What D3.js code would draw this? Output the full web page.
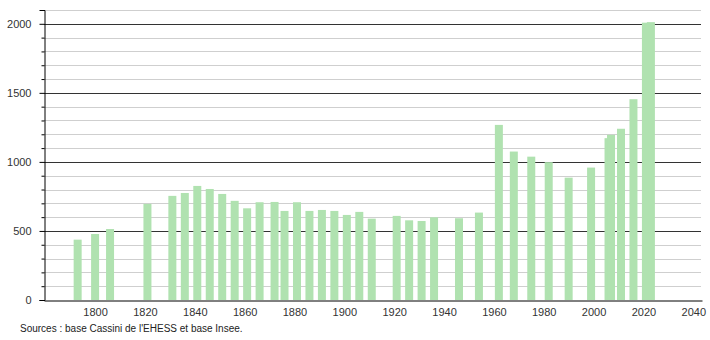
<!DOCTYPE html>
<html>
<head>
<meta charset="utf-8">
<script src="https://cdn.jsdelivr.net/npm/d3@7"></script>
<style>
  body { margin: 0; background: #fff; }
  text { font-family: "Liberation Sans", Arial, sans-serif; }
</style>
</head>
<body>
<div id="chart"></div>
<script>
const years = [1793, 1800, 1806, 1821, 1831, 1836, 1841, 1846, 1851, 1856,
  1861, 1866, 1872, 1876, 1881, 1886, 1891, 1896, 1901, 1906, 1911,
  1921, 1926, 1931, 1936, 1946, 1954, 1962, 1968, 1975, 1982, 1990,
  1999, 2006, 2007, 2011, 2016, 2021, 2023];
const population = [437, 478, 514, 696, 754, 775, 826, 804, 768, 718,
  664, 708, 710, 645, 708, 645, 652, 645, 616, 638, 589,
  609, 577, 572, 599, 592, 633, 1268, 1075, 1038, 998, 886,
  959, 1172, 1196, 1240, 1454, 2008, 2012];
const xTicks = [1800, 1820, 1840, 1860, 1880, 1900, 1920, 1940, 1960, 1980, 2000, 2020, 2040];
const yMajor = [0, 500, 1000, 1500, 2000];
const yMinor = d3.range(100, 2101, 100).filter(v => v % 500 !== 0);
const source = "Sources : base Cassini de l'EHESS et base Insee.";

const width = 710;
const height = 340;
const barColor = "#b0e2b0";

const svg = d3.select("#chart").append("svg").attr("width", width).attr("height", height);

const x = d3.scaleLinear().domain([1779.5, 2043.5]).range([44, 702]);
const y = d3.scaleLinear().domain([0, 2100]).range([300, 10]);

// grid lines
svg.append("g").selectAll("line")
  .data(yMinor)
  .enter()
  .append("line")
  .attr("x1", 44).attr("x2", 701)
  .attr("y1", d => Math.round(y(d)) + 0.5).attr("y2", d => Math.round(y(d)) + 0.5)
  .attr("stroke", "#cfcfcf");

svg.append("g").selectAll("line")
  .data(yMajor.filter(d => d > 0))
  .enter()
  .append("line")
  .attr("x1", 44).attr("x2", 701)
  .attr("y1", d => Math.round(y(d)) + 0.5).attr("y2", d => Math.round(y(d)) + 0.5)
  .attr("stroke", "#333");

// bars
const data = years.map((yr, i) => ({ year: yr, value: population[i] }));
svg.append("g").selectAll("rect")
  .data(data)
  .enter()
  .append("rect")
  .attr("x", d => x(d.year) - 4)
  .attr("width", 8)
  .attr("y", d => y(d.value))
  .attr("height", d => y(0) - y(d.value))
  .attr("fill", barColor);

// y axis
const yAxisMajor = d3.axisLeft(y).tickValues(yMajor).tickSize(5).tickPadding(8).tickFormat(d3.format("d"));
const gy = svg.append("g").attr("transform", "translate(44.5,0)").call(yAxisMajor);
gy.select(".domain").attr("stroke", "#000");
gy.selectAll(".tick line").attr("stroke", "#000");
gy.selectAll(".tick text").attr("fill", "#333").style("font-size", "11px").style("font-family", "Liberation Sans, Arial, sans-serif");

const yAxisMinor = d3.axisLeft(y).tickValues(yMinor).tickSize(3).tickFormat("");
const gyMinor = svg.append("g").attr("transform", "translate(44.5,0)").call(yAxisMinor);
gyMinor.select(".domain").remove();
gyMinor.selectAll(".tick line").attr("stroke", "#000");

// x axis
const xAxis = d3.axisBottom(x).tickValues(xTicks).tickSize(0).tickPadding(8).tickFormat(d3.format("d"));
const gx = svg.append("g").attr("transform", "translate(0,300.5)").call(xAxis);
gx.select(".domain").attr("stroke", "#000");
gx.selectAll(".tick text").attr("fill", "#333").style("font-size", "11px").style("font-family", "Liberation Sans, Arial, sans-serif");

svg.append("text")
  .attr("x", 20)
  .attr("y", 332)
  .attr("fill", "#222")
  .style("font-size", "10px")
  .text(source);
</script>
</body>
</html>
